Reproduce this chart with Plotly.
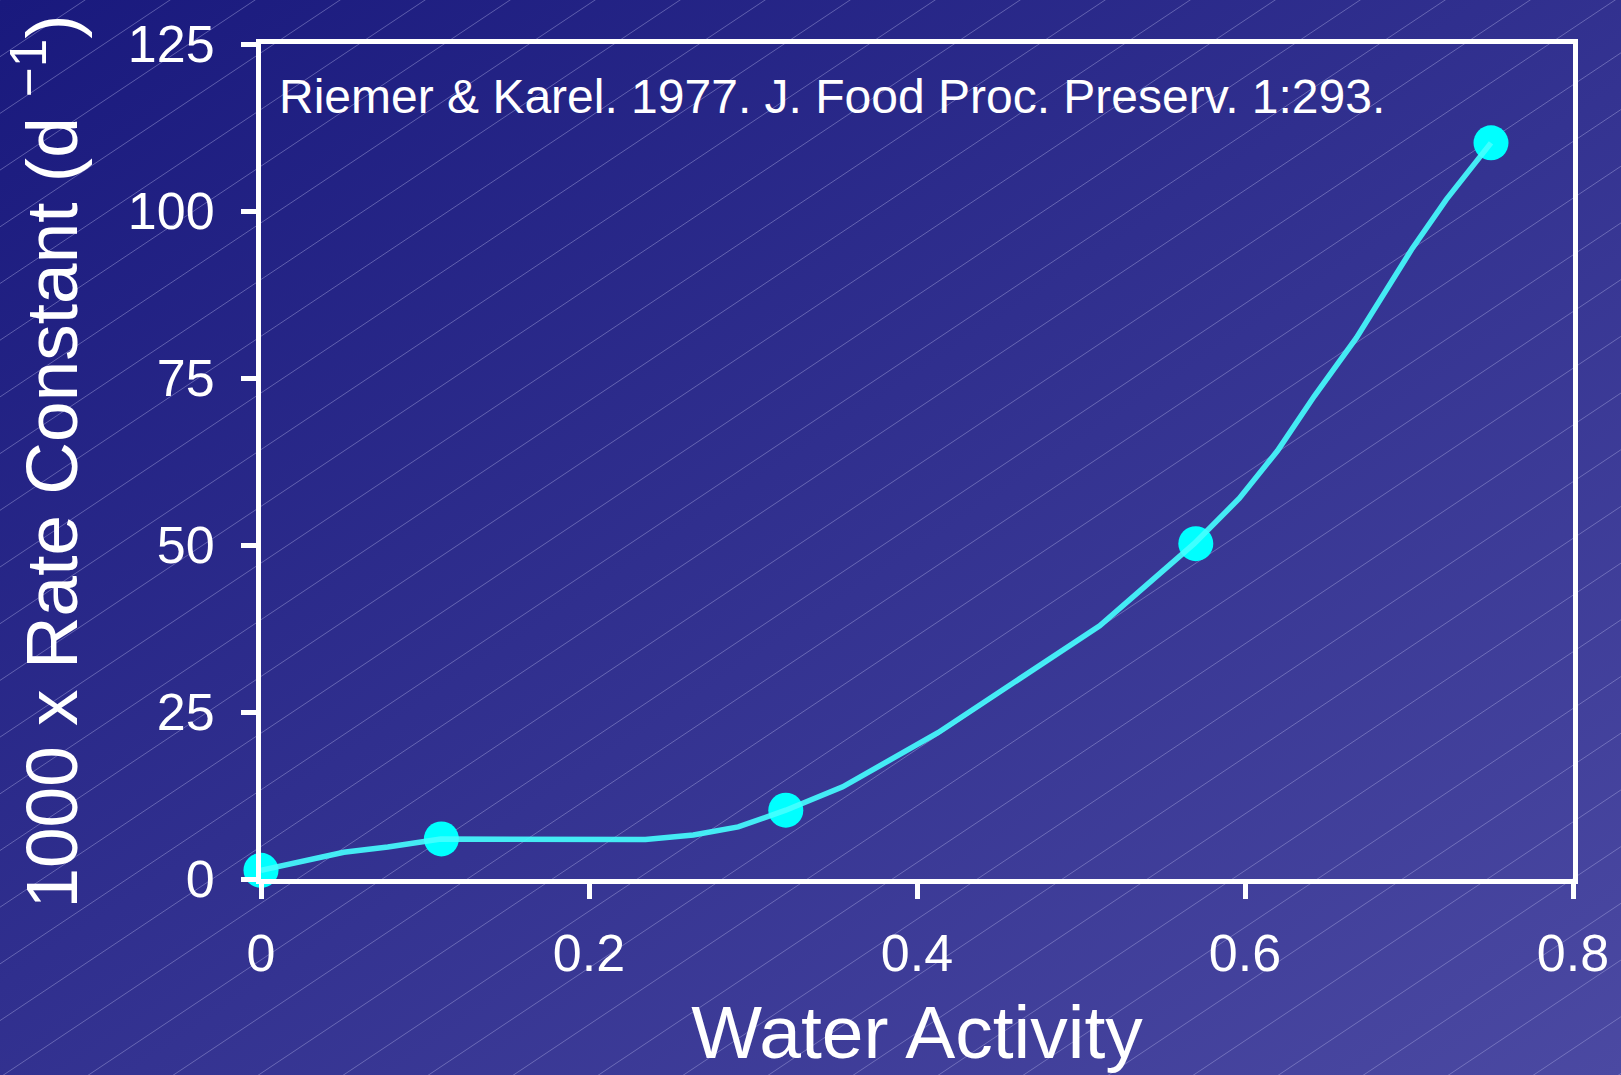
import base64
import plotly.graph_objects as go

# measured points (water activity vs 1000 x rate constant)
aw_points = [0.0, 0.11, 0.32, 0.57, 0.75]
k_points = [1.3, 6.0, 10.3, 50.2, 110.2]

# hand-drawn fit curve, vertices
aw_curve = [0.0, 0.0505, 0.0773, 0.1096, 0.2344, 0.2636, 0.291, 0.320, 0.3547,
            0.4128, 0.5114, 0.5376, 0.569, 0.5966, 0.6198, 0.6423, 0.6679,
            0.702, 0.7227, 0.750]
k_curve = [1.3, 4.0, 4.8, 6.0, 5.9, 6.6, 7.8, 10.3, 13.8,
           21.9, 37.9, 43.6, 50.2, 57.0, 64.1, 72.3, 81.0,
           94.4, 101.7, 110.2]

x_ticks = [0, 0.2, 0.4, 0.6, 0.8]
x_ticktext = ["0", "0.2", "0.4", "0.6", "0.8"]
y_ticks = [0, 25, 50, 75, 100, 125]

W, H = 1621, 1075
ML, MR, MT, MB = 261, 48, 44, 196
PW, PH = W - ML - MR, H - MT - MB

FONT = "Liberation Sans, Arial, sans-serif"

# slide-style background: diagonal gradient with faint hatch lines
lines = []
slope = 0.667
step = 56.7
c = 0.0
while c < H + W * slope + step:
    lines.append(f'<line x1="0" y1="{c:.1f}" x2="{W}" y2="{c - W * slope:.1f}"/>')
    c += step
svg = (
    f'<svg xmlns="http://www.w3.org/2000/svg" width="{W}" height="{H}" viewBox="0 0 {W} {H}">'
    '<defs><linearGradient id="g" x1="0" y1="0" x2="1" y2="1">'
    '<stop offset="0" stop-color="#19197d"/><stop offset="1" stop-color="#4b49a2"/>'
    '</linearGradient></defs>'
    f'<rect width="{W}" height="{H}" fill="url(#g)"/>'
    '<g stroke="#a9a8e0" stroke-opacity="0.45" stroke-width="1">' + "".join(lines) + '</g>'
    '</svg>'
)
bg_src = "data:image/svg+xml;base64," + base64.b64encode(svg.encode()).decode()

fig = go.Figure()
fig.add_trace(go.Scatter(x=aw_points, y=k_points, mode="markers", cliponaxis=False,
                         marker=dict(color="#00ffff", size=35, line=dict(width=0)),
                         showlegend=False))
fig.add_trace(go.Scatter(x=aw_curve, y=k_curve, mode="lines", cliponaxis=False,
                         line=dict(color="rgba(70,255,255,0.9)", width=5.5),
                         showlegend=False))

fig.add_annotation(text="Riemer & Karel. 1977. J. Food Proc. Preserv. 1:293.",
                   xref="paper", yref="paper", x=0.012, y=0.971,
                   xanchor="left", yanchor="top", showarrow=False,
                   font=dict(family=FONT, size=48, color="white"))

fig.add_layout_image(dict(source=bg_src, xref="paper", yref="paper",
                          x=-ML / PW, y=1 + MT / PH, sizex=W / PW, sizey=H / PH,
                          xanchor="left", yanchor="top", sizing="stretch",
                          layer="below"))

axis_common = dict(showline=True, linecolor="white", linewidth=5, mirror=True,
                   ticks="outside", ticklen=15, tickwidth=5, tickcolor="white",
                   showgrid=False, zeroline=False,
                   tickfont=dict(family=FONT, size=52, color="white"))

fig.update_xaxes(range=[0, 0.8], tickvals=x_ticks, ticktext=x_ticktext,
                 ticklabelstandoff=10,
                 title=dict(text="Water Activity", standoff=26,
                            font=dict(family=FONT, size=75, color="white")),
                 **axis_common)
fig.update_yaxes(range=[0, 125], tickvals=y_ticks, ticklabelstandoff=16,
                 title=dict(text="1000 x Rate Constant (d <sup>\u22121</sup>)", standoff=36,
                            font=dict(family=FONT, size=73, color="white")),
                 **axis_common)

fig.update_layout(width=W, height=H,
                  margin=dict(l=ML, r=MR, t=MT, b=MB, autoexpand=False),
                  paper_bgcolor="#30308a", plot_bgcolor="rgba(0,0,0,0)",
                  font=dict(family=FONT, color="white"))

fig.write_html("out.html", config={"displayModeBar": False},
               post_script="document.body.style.margin='0';")
